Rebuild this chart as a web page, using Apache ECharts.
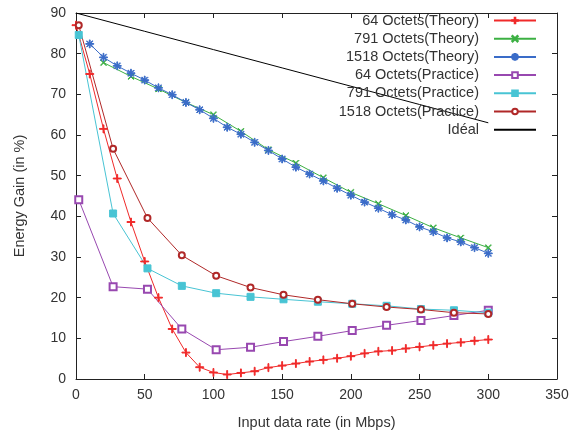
<!DOCTYPE html>
<html>
<head>
<meta charset="utf-8">
<script src="https://cdn.jsdelivr.net/npm/echarts@6/dist/echarts.min.js"></script>
<style>
html,body{margin:0;padding:0;background:#fff;}
#chart{width:578px;height:435px;}
</style>
</head>
<body>
<div id="chart"></div>
<script>
// ---- data ----
var theoryX64 = [0,10,20,30,40,50,60,70,80,90,100,110,120,130,140,150,160,170,180,190,200,210,220,230,240,250,260,270,280,290,300];
var theory64 = [87,75,61.5,49.3,38.6,28.9,20,12.3,6.5,2.9,1.6,1.1,1.5,1.9,2.8,3.3,3.8,4.3,4.7,5.1,5.6,6.3,6.8,7.0,7.5,7.9,8.3,8.7,9.0,9.4,9.7];

var theoryX791 = [20,40,60,80,100,120,140,160,180,200,220,240,260,280,300];
var theory791 = [77.8,74.4,71.3,68.0,65.0,60.9,56.4,53.1,49.5,45.9,43.1,40.2,37.2,34.7,32.3];

var theoryX1518 = [10,20,30,40,50,60,70,80,90,100,110,120,130,140,150,160,170,180,190,200,210,220,230,240,250,260,270,280,290,300];
var theory1518 = [82.4,79.1,77.0,75.2,73.5,71.6,69.9,68.0,66.2,64.1,61.9,60.2,58.2,56.2,54.1,52.1,50.4,48.7,46.9,45.2,43.5,42.0,40.4,39.1,37.4,36.2,34.7,33.7,32.3,30.9];

var practiceX = [2,27,52,77,102,127,151,176,201,226,251,275,300];
var practice64 = [44.1,22.7,22.1,12.3,7.2,7.8,9.2,10.5,11.9,13.2,14.4,15.6,16.9];
var practice791 = [84.6,40.7,27.2,22.9,21.1,20.2,19.6,19.0,18.5,18.0,17.2,16.9,16.3];
var practice1518 = [87.0,56.6,39.6,30.4,25.4,22.5,20.7,19.5,18.5,17.7,17.1,16.3,16.0];

var idealX = [0,50,100,150,200,250,300];
var ideal = [90,85.5,81,76.5,72,67.5,63];

var seriesNames = ['64 Octets(Theory)','791 Octets(Theory)','1518 Octets(Theory)','64 Octets(Practice)','791 Octets(Practice)','1518 Octets(Practice)','Idéal'];
var xTicks = {min:0,max:350,interval:50};
var yTicks = {min:0,max:90,interval:10};
var xTitle = 'Input data rate (in Mbps)';
var yTitle = 'Energy Gain (in %)';

// ---- build ----
function pairs(xs, ys){ return xs.map(function(x,i){ return [x, ys[i]]; }); }
var PLUS = 'path://M4.45,0H5.55V10H4.45Z M0,4.45H10V5.55H0Z';
var CROSS = 'path://M0.75,0L10,9.25L9.25,10L0,0.75Z M9.25,0L10,0.75L0.75,10L0,9.25Z';
var STAR = 'path://M4.5,0H5.5V10H4.5Z M0,4.5H10V5.5H0Z M1.6,1.0L9.0,8.4L8.4,9.0L1.0,1.6Z M8.4,1.0L9.0,1.6L1.6,9.0L1.0,8.4Z';
var FONT = 'Liberation Sans';

var defs = [
  {d:pairs(theoryX64,theory64), c:'#f02a2a', s:PLUS, z:8},
  {d:pairs(theoryX791,theory791), c:'#3cb043', s:CROSS, z:6},
  {d:pairs(theoryX1518,theory1518), c:'#3a6cc8', s:STAR, z:8},
  {d:pairs(practiceX,practice64), c:'#9848b0', s:'emptyRect', z:7},
  {d:pairs(practiceX,practice791), c:'#48c4d4', s:'rect', z:7},
  {d:pairs(practiceX,practice1518), c:'#b02828', s:'emptyCircle', z:6},
  {d:pairs(idealX,ideal), c:'#000000', s:'none', z:0}
];

var series = defs.map(function(o,i){
  var none = o.s==='none';
  return {
    name: seriesNames[i], type:'line', data:o.d,
    xAxisIndex:0, yAxisIndex:0,
    symbol: none ? 'circle' : o.s, symbolSize:o.z, showSymbol: !none,
    lineStyle:{color:o.c, width:1},
    itemStyle:{color:o.c, borderColor:o.c, borderWidth:1, opacity: none ? 0 : 1},
    emphasis:{disabled:true},
    animation:false
  };
});

var tickTxt = {fontFamily:FONT, fontSize:14, color:'#333'};
var titleTxt = {fontFamily:FONT, fontSize:14.5, color:'#333'};
function xa(pos, labels){
  return {type:'value', position:pos, min:xTicks.min, max:xTicks.max, interval:xTicks.interval,
    axisLine:{show:true, onZero:false, lineStyle:{color:'#222', width:1}},
    axisTick:{show:true, inside:true, length:5, lineStyle:{color:'#222'}},
    splitLine:{show:false},
    axisLabel:Object.assign({show:labels, margin:9}, tickTxt),
    name: labels ? xTitle : '', nameLocation:'middle', nameGap:36, nameTextStyle:titleTxt};
}
function ya(pos, labels){
  return {type:'value', position:pos, min:yTicks.min, max:yTicks.max, interval:yTicks.interval,
    axisLine:{show:true, onZero:false, lineStyle:{color:'#222', width:1}},
    axisTick:{show:true, inside:true, length:5, lineStyle:{color:'#222'}},
    splitLine:{show:false},
    axisLabel:Object.assign({show:labels, margin:10}, tickTxt),
    name: labels ? yTitle : '', nameLocation:'middle', nameGap:49, nameRotate:90, nameTextStyle:titleTxt};
}

var legendData = seriesNames.map(function(n,i){
  return defs[i].s==='none' ? {name:n, itemStyle:{opacity:0}} : {name:n};
});

var chart = echarts.init(document.getElementById('chart'), null, {renderer:'canvas'});
chart.setOption({
  backgroundColor:'#fff',
  animation:false,
  grid:{left:76, right:21, top:13, bottom:55, containLabel:false},
  xAxis:[xa('bottom', true), xa('top', false)],
  yAxis:[ya('left', true), ya('right', false)],
  legend:{
    data: legendData, orient:'vertical', right:36, top:8, align:'right',
    itemWidth:42, itemHeight:7, itemGap:3.2,
    textStyle:{fontFamily:FONT, fontSize:14.5, lineHeight:14.5, color:'#333', padding:[0,10,0,0]},
    selectedMode:false
  },
  series: series
});
</script>
</body>
</html>
